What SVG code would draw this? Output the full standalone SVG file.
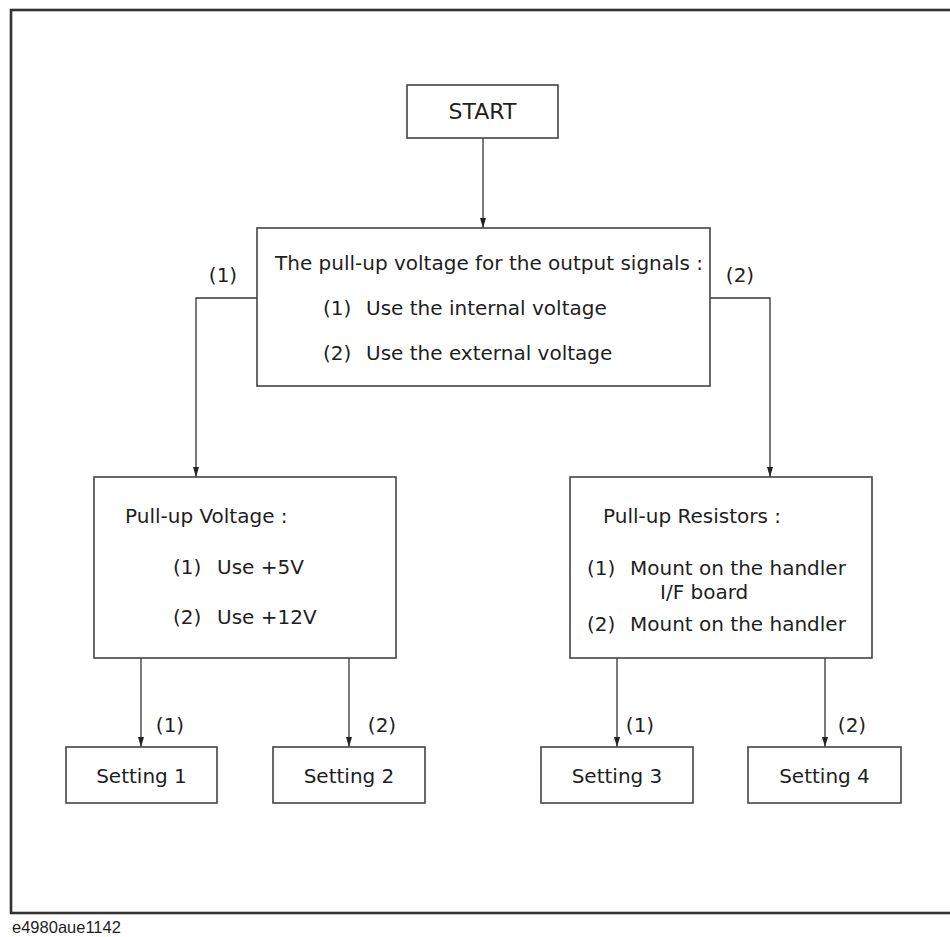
<svg xmlns="http://www.w3.org/2000/svg" width="950" height="937" viewBox="0 0 950 937">
<style>
  .box{fill:#fff;stroke:#444;stroke-width:1.6}
  .t{font-family:"DejaVu Sans","Liberation Sans",sans-serif;font-size:20px;fill:#1e1e1e}
  .c{text-anchor:middle}
  .conn{fill:none;stroke:#333;stroke-width:1.3}
  .frame{fill:none;stroke:#333;stroke-width:2.6}
</style>
<defs>
  <marker id="ah" markerUnits="userSpaceOnUse" markerWidth="10" markerHeight="6" refX="10" refY="3" orient="auto">
    <path d="M0,0 L10,3 L0,6 z" fill="#222"/>
  </marker>
</defs>
<rect class="frame" x="11" y="10" width="945" height="903"/>

<g id="connectors">
  <path class="conn" d="M483,138 V228" marker-end="url(#ah)"/>
  <path class="conn" d="M257,298 H196 V477" marker-end="url(#ah)"/>
  <path class="conn" d="M710,298 H770 V477" marker-end="url(#ah)"/>
  <path class="conn" d="M141,658 V747" marker-end="url(#ah)"/>
  <path class="conn" d="M349,658 V747" marker-end="url(#ah)"/>
  <path class="conn" d="M617,658 V747" marker-end="url(#ah)"/>
  <path class="conn" d="M825,658 V747" marker-end="url(#ah)"/>
  <text class="t c" x="223" y="282">(1)</text>
  <text class="t c" x="740" y="282">(2)</text>
  <text class="t c" x="170" y="732">(1)</text>
  <text class="t c" x="382" y="732">(2)</text>
  <text class="t c" x="640" y="732">(1)</text>
  <text class="t c" x="852" y="732">(2)</text>
</g>

<g id="start">
  <rect class="box" x="407" y="85" width="151" height="53"/>
  <text class="t c" x="482.5" y="119" style="font-size:22px">START</text>
</g>

<g id="pullup-choice">
  <rect class="box" x="257" y="228" width="453" height="158"/>
  <text class="t" x="275" y="270">The pull-up voltage for the output signals :</text>
  <text class="t" y="315"><tspan x="323">(1)</tspan><tspan x="366">Use the internal voltage</tspan></text>
  <text class="t" y="360"><tspan x="323">(2)</tspan><tspan x="366">Use the external voltage</tspan></text>
</g>

<g id="pullup-voltage">
  <rect class="box" x="94" y="477" width="302" height="181"/>
  <text class="t" x="125" y="523">Pull-up Voltage :</text>
  <text class="t" y="574"><tspan x="173">(1)</tspan><tspan x="217">Use +5V</tspan></text>
  <text class="t" y="624"><tspan x="173">(2)</tspan><tspan x="217">Use +12V</tspan></text>
</g>

<g id="pullup-resistors">
  <rect class="box" x="570" y="477" width="302" height="181"/>
  <text class="t" x="603" y="523">Pull-up Resistors :</text>
  <text class="t" y="575"><tspan x="587">(1)</tspan><tspan x="630">Mount on the handler</tspan></text>
  <text class="t" x="660" y="599">I/F board</text>
  <text class="t" y="631"><tspan x="587">(2)</tspan><tspan x="630">Mount on the handler</tspan></text>
</g>

<g id="setting1">
  <rect class="box" x="66" y="747" width="151" height="56"/>
  <text class="t c" x="141.5" y="783">Setting 1</text>
</g>
<g id="setting2">
  <rect class="box" x="273" y="747" width="152" height="56"/>
  <text class="t c" x="349" y="783">Setting 2</text>
</g>
<g id="setting3">
  <rect class="box" x="541" y="747" width="152" height="56"/>
  <text class="t c" x="617" y="783">Setting 3</text>
</g>
<g id="setting4">
  <rect class="box" x="748" y="747" width="153" height="56"/>
  <text class="t c" x="824.5" y="783">Setting 4</text>
</g>

<text x="12" y="933" style="font-family:'Liberation Sans',Arial,sans-serif;font-size:16.5px;fill:#1e1e1e">e4980aue1142</text>
</svg>
